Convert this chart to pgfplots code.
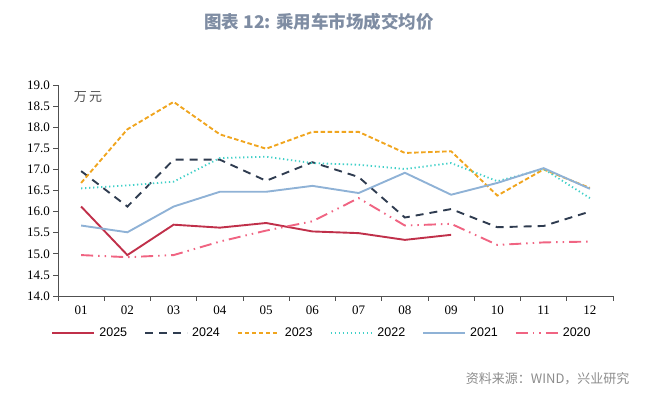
\documentclass[border=0pt]{standalone}
\usepackage{pgfplots}
\pgfplotsset{compat=1.18}
\usepackage{fontspec}
\setmainfont{Liberation Serif}
\setsansfont{Liberation Sans}
\newfontfamily\cjk{Noto Sans CJK SC}
\definecolor{c25}{RGB}{192,48,74}
\definecolor{c24}{RGB}{47,60,80}
\definecolor{c23}{RGB}{240,165,30}
\definecolor{c22}{RGB}{64,208,200}
\definecolor{c21}{RGB}{143,178,214}
\definecolor{c20}{RGB}{240,100,130}
\definecolor{axgray}{RGB}{80,80,80}
\definecolor{titlec}{RGB}{127,141,163}
\definecolor{srcc}{RGB}{140,140,140}
\begin{document}
\begin{tikzpicture}
\path[use as bounding box] (0pt,0pt) rectangle (660pt,392pt);
\node[font=\cjk\bfseries\fontsize{17.5}{20}\selectfont, text=titlec] at (319pt,370pt) {图表 12: 乘用车市场成交均价};
\node[font=\cjk\fontsize{13}{15}\selectfont, text=srcc, anchor=east] at (633pt,13pt) {资料来源：WIND，兴业研究};
\begin{axis}[
  at={(58pt,96pt)}, anchor=south west,
  scale only axis, width=555pt, height=211pt,
  xmin=0.5, xmax=12.5, ymin=14, ymax=19,
  axis x line*=bottom, axis y line*=left,
  axis line style={draw=axgray, line width=0.8pt},
  every tick/.style={draw=axgray, line width=0.8pt},
  tick align=outside, major tick length=4.5pt,
  xtick={0.5,1.5,...,12.5},
  xticklabels={01,02,03,04,05,06,07,08,09,10,11,12},
  x tick label as interval=true,
  ytick={14,14.5,...,19},
  /pgf/number format/.cd, fixed, fixed zerofill, precision=1, assume math mode=true,
  /pgfplots/.cd,
  tick label style={font=\fontsize{13}{15}\selectfont, text=black},
  xticklabel style={yshift=-2pt},
  legend columns=6,
  legend style={draw=none, fill=none, at={(0.474,-0.175)}, anchor=center,
    font=\sffamily\fontsize{12.5}{14}\selectfont,
    /tikz/every odd column/.style={column sep=4pt},
    /tikz/every even column/.style={column sep=17pt},
    nodes={inner sep=0pt}},
  legend image code/.code={\draw[#1] (0pt,0pt) -- (42pt,0pt);},
  clip=false,
]
\addplot[c25, line width=1.9pt] coordinates {(1,16.12)(2,14.97)(3,15.69)(4,15.62)(5,15.73)(6,15.53)(7,15.49)(8,15.33)(9,15.45)};
\addlegendentry{2025}
\addplot[c24, line width=1.9pt, dash pattern=on 8pt off 6pt] coordinates {(1,16.96)(2,16.12)(3,17.23)(4,17.23)(5,16.73)(6,17.17)(7,16.82)(8,15.86)(9,16.06)(10,15.63)(11,15.66)(12,16.0)};
\addlegendentry{2024}
\addplot[c23, line width=1.9pt, dash pattern=on 4.5pt off 2.5pt] coordinates {(1,16.68)(2,17.95)(3,18.6)(4,17.83)(5,17.49)(6,17.89)(7,17.89)(8,17.39)(9,17.43)(10,16.38)(11,17.0)(12,16.56)};
\addlegendentry{2023}
\addplot[c22, line width=1.8pt, dash pattern=on 1.3pt off 2.7pt] coordinates {(1,16.55)(2,16.62)(3,16.71)(4,17.27)(5,17.3)(6,17.15)(7,17.11)(8,17.01)(9,17.15)(10,16.72)(11,17.01)(12,16.32)};
\addlegendentry{2022}
\addplot[c21, line width=1.9pt] coordinates {(1,15.67)(2,15.51)(3,16.12)(4,16.47)(5,16.47)(6,16.61)(7,16.44)(8,16.92)(9,16.4)(10,16.68)(11,17.03)(12,16.54)};
\addlegendentry{2021}
\addplot[c20, line width=1.9pt, dash pattern=on 12pt off 5pt on 1.5pt off 5pt on 1.5pt off 5pt] coordinates {(1,14.97)(2,14.92)(3,14.97)(4,15.29)(5,15.55)(6,15.77)(7,16.32)(8,15.67)(9,15.71)(10,15.21)(11,15.27)(12,15.29)};
\addlegendentry{2020}
\node[font=\cjk\itshape\fontsize{13}{15}\selectfont, text=axgray] at (rel axis cs:0.054,0.943) {万\,元};
\end{axis}
\end{tikzpicture}
\end{document}
